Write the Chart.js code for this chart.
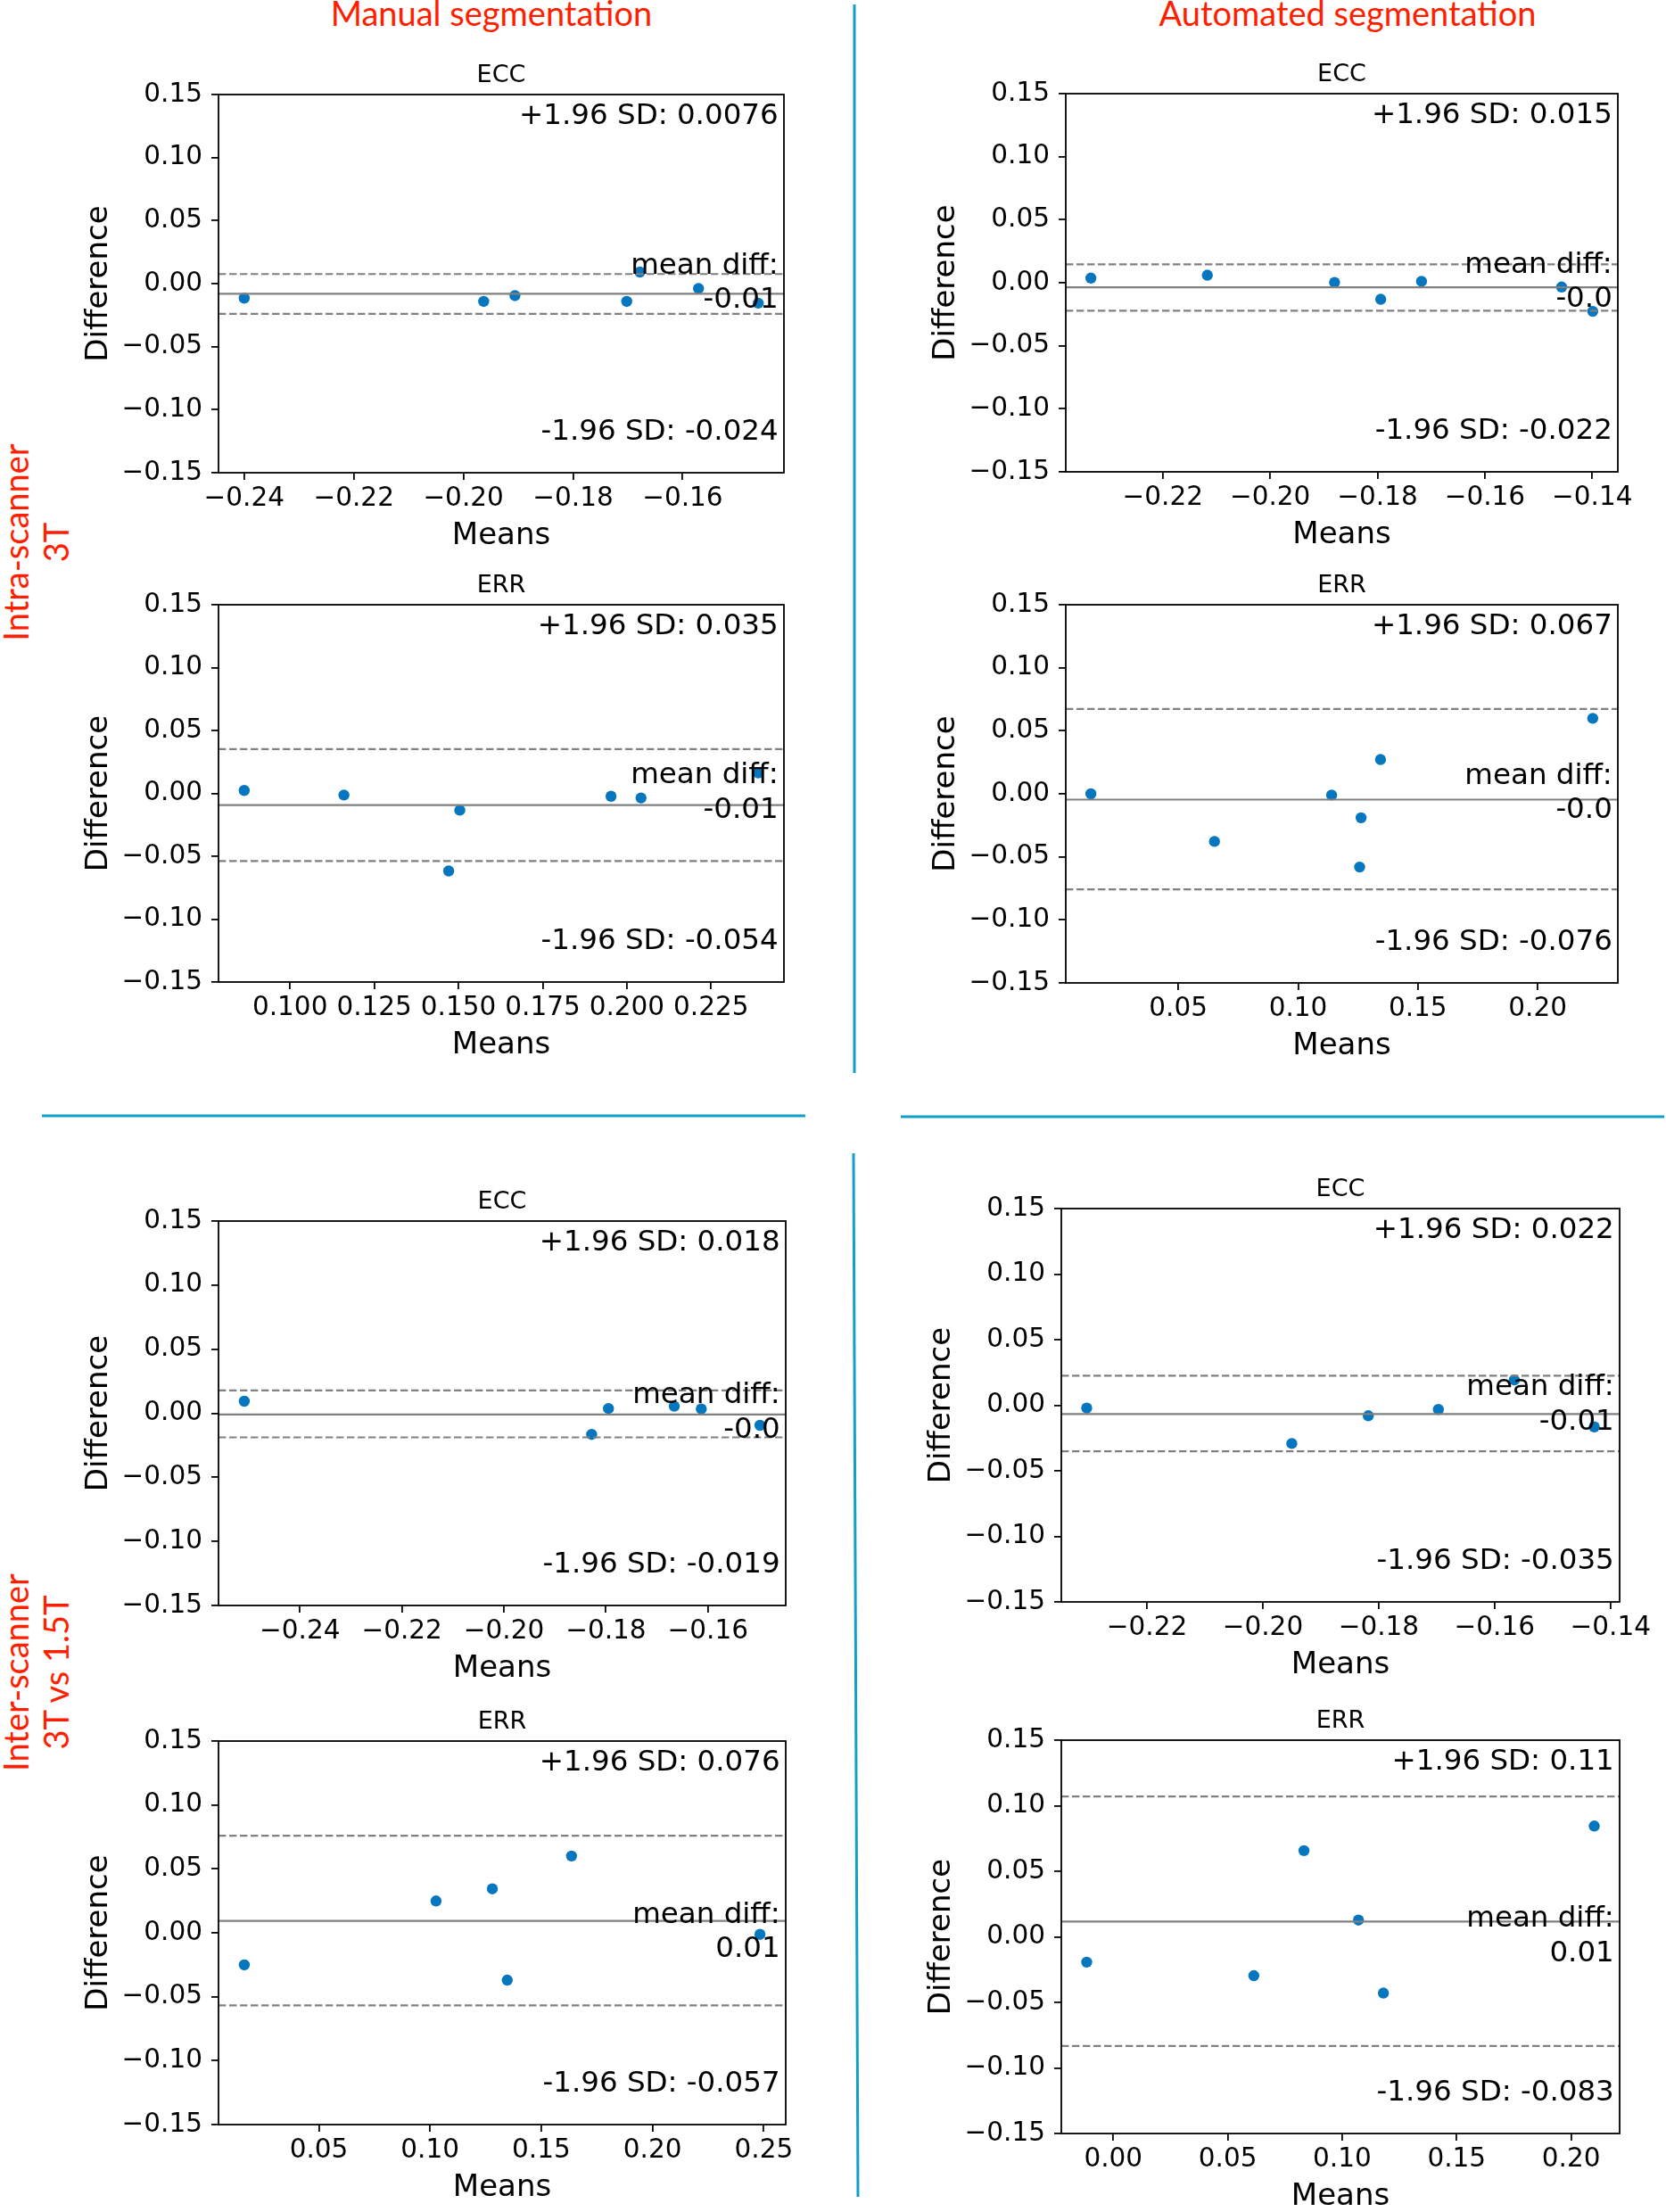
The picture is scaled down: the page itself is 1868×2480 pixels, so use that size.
<!DOCTYPE html>
<html><head><meta charset="utf-8">
<script src="https://cdn.jsdelivr.net/npm/chart.js@4.4.1/dist/chart.umd.min.js"></script>
<style>
html,body{margin:0;padding:0;background:#fff;}
body{width:1868px;height:2480px;position:relative;overflow:hidden;}
canvas{position:absolute;}
#deco{position:absolute;left:0;top:0;}
</style></head><body>
<svg id="deco" width="1868" height="2480" xmlns="http://www.w3.org/2000/svg">
  <g font-family="Lato, 'Open Sans', sans-serif" fill="#ff1e00">
    <text x="551" y="29" text-anchor="middle" font-size="38">Manual segmentation</text>
    <text x="1511" y="29" text-anchor="middle" font-size="38">Automated segmentation</text>
    <text transform="translate(32,608) rotate(-90)" text-anchor="middle" font-size="38">Intra-scanner</text>
    <text transform="translate(77,608) rotate(-90)" text-anchor="middle" font-size="38">3T</text>
    <text transform="translate(32,1875) rotate(-90)" text-anchor="middle" font-size="38">Inter-scanner</text>
    <text transform="translate(77,1875) rotate(-90)" text-anchor="middle" font-size="38">3T vs 1.5T</text>
  </g>
  <g stroke="#10a0c8" stroke-width="3">
    <line x1="958" y1="5" x2="958" y2="1203"/>
    <line x1="957" y1="1293" x2="962" y2="2463"/>
    <line x1="47" y1="1251" x2="903" y2="1251"/>
    <line x1="1010" y1="1252" x2="1866" y2="1252"/>
  </g>
</svg>
<script>
// ---------- data ----------
const yTickLabels = ['−0.15','−0.10','−0.05','0.00','0.05','0.10','0.15'];

// Intra-scanner 3T, manual segmentation, ECC
const aMeans  = [-0.2400, -0.1963, -0.1906, -0.1702, -0.1678, -0.1571, -0.1462];
const aDiffs  = [-0.0115, -0.0141, -0.0095, -0.0141,  0.0092, -0.0038, -0.0155];
const aLimits = [0.0076, -0.0080, -0.0240];
const aXTicks = ['−0.24','−0.22','−0.20','−0.18','−0.16'];
const aNotes  = ['+1.96 SD: 0.0076','mean diff:','-0.01','-1.96 SD: -0.024'];

// Intra-scanner 3T, automated segmentation, ECC
const bMeans  = [-0.2334, -0.2117, -0.1880, -0.1794, -0.1718, -0.1457, -0.1399];
const bDiffs  = [ 0.0037,  0.0060,  0.0003, -0.0131,  0.0011, -0.0034, -0.0227];
const bLimits = [0.0146, -0.0036, -0.0222];
const bXTicks = ['−0.22','−0.20','−0.18','−0.16','−0.14'];
const bNotes  = ['+1.96 SD: 0.015','mean diff:','-0.0','-1.96 SD: -0.022'];

// Intra-scanner 3T, manual segmentation, ERR
const cMeans  = [0.0864, 0.1160, 0.1471, 0.1504, 0.1953, 0.2042, 0.2390];
const cDiffs  = [0.0023, -0.0013, -0.0617, -0.0134, -0.0023, -0.0036, 0.0162];
const cLimits = [0.0352, -0.0093, -0.0538];
const cXTicks = ['0.100','0.125','0.150','0.175','0.200','0.225'];
const cNotes  = ['+1.96 SD: 0.035','mean diff:','-0.01','-1.96 SD: -0.054'];

// Intra-scanner 3T, automated segmentation, ERR
const dMeans  = [0.0135, 0.0651, 0.1140, 0.1257, 0.1263, 0.1344, 0.2230];
const dDiffs  = [0.0000, -0.0378, -0.0010, -0.0581, -0.0190, 0.0272, 0.0599];
const dLimits = [0.0673, -0.0046, -0.0758];
const dXTicks = ['0.05','0.10','0.15','0.20'];
const dNotes  = ['+1.96 SD: 0.067','mean diff:','-0.0','-1.96 SD: -0.076'];

// Inter-scanner 3T vs 1.5T, manual segmentation, ECC
const eMeans  = [-0.2509, -0.1828, -0.1795, -0.1666, -0.1613, -0.1498];
const eDiffs  = [ 0.0094, -0.0165,  0.0037,  0.0055,  0.0034, -0.0094];
const eLimits = [0.0178, -0.0010, -0.0188];
const eXTicks = ['−0.24','−0.22','−0.20','−0.18','−0.16'];
const eNotes  = ['+1.96 SD: 0.018','mean diff:','-0.0','-1.96 SD: -0.019'];

// Inter-scanner 3T vs 1.5T, automated segmentation, ECC
const fMeans  = [-0.2304, -0.1950, -0.1818, -0.1697, -0.1566, -0.1428];
const fDiffs  = [-0.0022, -0.0292, -0.0080, -0.0032,  0.0193, -0.0165];
const fLimits = [0.0226, -0.0067, -0.0351];
const fXTicks = ['−0.22','−0.20','−0.18','−0.16','−0.14'];
const fNotes  = ['+1.96 SD: 0.022','mean diff:','-0.01','-1.96 SD: -0.035'];

// Inter-scanner 3T vs 1.5T, manual segmentation, ERR
const gMeans  = [0.0165, 0.1027, 0.1280, 0.1347, 0.1636, 0.2483];
const gDiffs  = [-0.0251, 0.0249, 0.0344, -0.0370, 0.0601, -0.0012];
const gLimits = [0.0759, 0.0094, -0.0568];
const gXTicks = ['0.05','0.10','0.15','0.20','0.25'];
const gNotes  = ['+1.96 SD: 0.076','mean diff:','0.01','-1.96 SD: -0.057'];

// Inter-scanner 3T vs 1.5T, automated segmentation, ERR
const hMeans  = [-0.0116, 0.0614, 0.0833, 0.1071, 0.1180, 0.2101];
const hDiffs  = [-0.0193, -0.0296, 0.0657, 0.0128, -0.0429, 0.0845];
const hLimits = [0.1071, 0.0117, -0.0832];
const hXTicks = ['0.00','0.05','0.10','0.15','0.20'];
const hNotes  = ['+1.96 SD: 0.11','mean diff:','0.01','-1.96 SD: -0.083'];

// ---------- layout (plot-area boxes on the page: left, top, right, bottom) ----------
const panels = [
  {title:'ECC', means:aMeans, diffs:aDiffs, limits:aLimits, xTicks:aXTicks, notes:aNotes, box:[245,106,879,530]},
  {title:'ECC', means:bMeans, diffs:bDiffs, limits:bLimits, xTicks:bXTicks, notes:bNotes, box:[1195,105,1814,529]},
  {title:'ERR', means:cMeans, diffs:cDiffs, limits:cLimits, xTicks:cXTicks, notes:cNotes, box:[245,678,879,1101]},
  {title:'ERR', means:dMeans, diffs:dDiffs, limits:dLimits, xTicks:dXTicks, notes:dNotes, box:[1195,678,1814,1102]},
  {title:'ECC', means:eMeans, diffs:eDiffs, limits:eLimits, xTicks:eXTicks, notes:eNotes, box:[245,1369,881,1800]},
  {title:'ECC', means:fMeans, diffs:fDiffs, limits:fLimits, xTicks:fXTicks, notes:fNotes, box:[1190,1355,1816,1796]},
  {title:'ERR', means:gMeans, diffs:gDiffs, limits:gLimits, xTicks:gXTicks, notes:gNotes, box:[245,1952,881,2382]},
  {title:'ERR', means:hMeans, diffs:hDiffs, limits:hLimits, xTicks:hXTicks, notes:hNotes, box:[1190,1951,1816,2392]}
];

const parseLabel = s => parseFloat(s.replace('−','-'));
const FONT = 'DejaVu Sans';

function makeDecor(p) {
  return {
    id: 'decor',
    afterDatasetsDraw(chart) {
      const ctx = chart.ctx, a = chart.chartArea;
      const W = a.right - a.left, H = a.bottom - a.top;
      const yc = (a.top + a.bottom) / 2;
      ctx.save();
      ctx.strokeStyle = '#000'; ctx.lineWidth = 1.8;
      ctx.strokeRect(a.left, a.top, W, H);
      ctx.fillStyle = '#000';
      ctx.textBaseline = 'alphabetic';
      ctx.textAlign = 'right';
      ctx.font = '32.5px "' + FONT + '"';
      const xr = a.left + 0.99 * W;
      ctx.fillText(p.notes[0], xr, a.top + 33);
      ctx.fillText(p.notes[1], xr, yc - 11.5);
      ctx.fillText(p.notes[2], xr, yc + 27);
      ctx.fillText(p.notes[3], xr, a.bottom - 37.5);
      ctx.textAlign = 'center';
      ctx.font = '27px "' + FONT + '"';
      ctx.fillText(p.title, (a.left + a.right) / 2, a.top - 14);
      ctx.font = '34px "' + FONT + '"';
      ctx.fillText('Means', (a.left + a.right) / 2, a.bottom + 80);
      ctx.translate(a.left - 125, yc);
      ctx.rotate(-Math.PI / 2);
      ctx.fillText('Difference', 0, 0);
      ctx.restore();
    }
  };
}

function build(p) {
  const [l, t, r, b] = p.box;
  const PL = 170, PT = 60, PR = 60, PB = 110;
  const w = r - l + PL + PR, h = b - t + PT + PB;
  const cv = document.createElement('canvas');
  cv.width = w; cv.height = h;
  cv.style.left = (l - PL) + 'px'; cv.style.top = (t - PT) + 'px';
  cv.style.width = w + 'px'; cv.style.height = h + 'px';
  document.body.appendChild(cv);

  const lo = Math.min(...p.means), hi = Math.max(...p.means), m = 0.05 * (hi - lo);
  const xmin = lo - m, xmax = hi + m;
  const xTickVals = p.xTicks.map(parseLabel);
  const yTickVals = yTickLabels.map(parseLabel);
  const hline = (v, dash) => ({
    type: 'line', showLine: true, data: [{x: xmin, y: v}, {x: xmax, y: v}],
    borderColor: '#808080', borderWidth: 2.2, borderDash: dash, pointRadius: 0, fill: false, order: 0
  });
  const tickFont = {family: FONT, size: 29.5};
  const grid = {drawOnChartArea: false, drawTicks: true, tickLength: 8, color: '#000', lineWidth: 1.8};

  new Chart(cv, {
    type: 'scatter',
    data: {
      datasets: [
        hline(p.limits[0], [8.4, 3.6]),
        hline(p.limits[1], []),
        hline(p.limits[2], [8.4, 3.6]),
        {type: 'scatter', data: p.means.map((x, i) => ({x: x, y: p.diffs[i]})),
         pointRadius: 6.2, pointBackgroundColor: '#0677bf', pointBorderWidth: 0, order: 1}
      ]
    },
    options: {
      responsive: false, animation: false, devicePixelRatio: 1,
      layout: {padding: {left: 0, top: PT, right: PR, bottom: 0}},
      plugins: {legend: {display: false}, tooltip: {enabled: false}, title: {display: false}},
      events: [],
      scales: {
        x: {
          type: 'linear', position: 'bottom', min: xmin, max: xmax,
          afterBuildTicks: s => { s.ticks = xTickVals.map(v => ({value: v})); },
          afterFit: s => { s.height = PB; s.paddingLeft = 0; s.paddingRight = 0; },
          ticks: {autoSkip: false, maxRotation: 0, minRotation: 0, padding: 4, color: '#000', font: tickFont,
                  callback: (v, i) => p.xTicks[i]},
          grid: grid, border: {display: false}
        },
        y: {
          type: 'linear', position: 'left', min: -0.15, max: 0.15,
          afterBuildTicks: s => { s.ticks = yTickVals.map(v => ({value: v})); },
          afterFit: s => { s.width = PL; s.paddingTop = 0; s.paddingBottom = 0; },
          ticks: {autoSkip: false, padding: 10, color: '#000', font: tickFont,
                  callback: (v, i) => yTickLabels[i]},
          grid: grid, border: {display: false}
        }
      }
    },
    plugins: [makeDecor(p)]
  });
}

panels.forEach(build);
</script>
</body></html>
